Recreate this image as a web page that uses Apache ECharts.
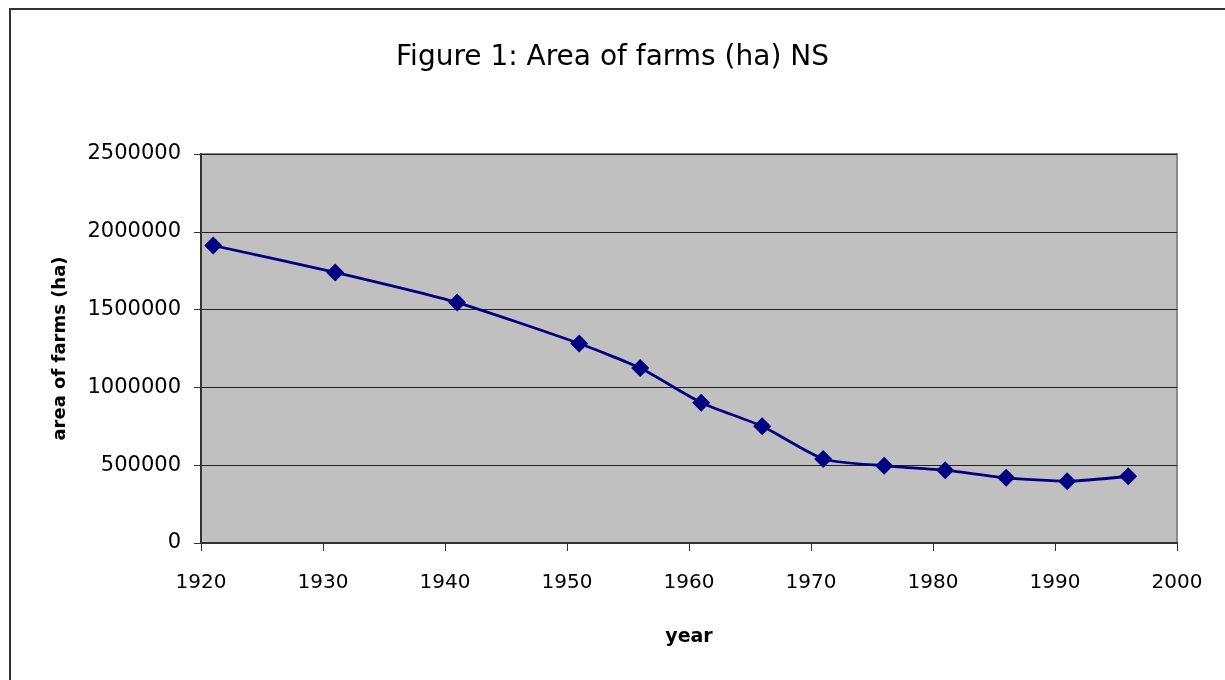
<!DOCTYPE html>
<html>
<head>
<meta charset="utf-8">
<script src="https://cdn.jsdelivr.net/npm/echarts@6/dist/echarts.min.js"></script>
<style>
  html, body { margin: 0; padding: 0; background: #fff; }
  #chart { width: 1225px; height: 680px; }
</style>
</head>
<body>
<div id="chart"></div>
<script>
// census years and farm area (ha)
const years = [1921, 1931, 1941, 1951, 1956, 1961, 1966, 1971, 1976, 1981, 1986, 1991, 1996]
const farmArea = [1912000, 1739000, 1545000, 1282000, 1124000, 902000, 750000, 540000, 496000, 468000, 419000, 397000, 429000]

const titleText = 'Figure 1: Area of farms (ha) NS'
const xName = 'year'
const yName = 'area of farms (ha)'

const font = 'DejaVu Sans'
const chart = echarts.init(document.getElementById('chart'))

chart.setOption({
  backgroundColor: '#ffffff',
  animation: false,
  title: {
    text: titleText,
    left: 'center',
    top: 39,
    textStyle: {
      fontFamily: font,
      fontWeight: 'normal',
      fontSize: 28,
      color: '#000',
    },
  },
  graphic: [
    {
      type: 'rect',
      shape: { x: 10, y: 9, width: 1400, height: 900 },
      style: { fill: 'none', stroke: '#333', lineWidth: 2 },
      silent: true,
    },
  ],
  grid: {
    left: 201,
    right: 48,
    top: 154,
    bottom: 137,
    show: true,
    backgroundColor: '#c0c0c0',
    borderColor: '#8a8a8a',
    borderWidth: 2,
  },
  xAxis: {
    type: 'value',
    min: 1920,
    max: 2000,
    interval: 10,
    name: xName,
    nameLocation: 'middle',
    nameGap: 85,
    nameTextStyle: { fontFamily: font, fontWeight: 'bold', fontSize: 19, color: '#000' },
    axisLine: { show: true, onZero: false, lineStyle: { color: '#333', width: 2 } },
    axisTick: { show: true, inside: false, length: 8, lineStyle: { color: '#333', width: 1 } },
    axisLabel: { fontFamily: font, fontSize: 20, color: '#000', margin: 30, formatter: (v) => String(v) },
    splitLine: { show: false },
  },
  yAxis: {
    type: 'value',
    min: 0,
    max: 2500000,
    interval: 500000,
    name: yName,
    nameLocation: 'middle',
    nameGap: 132,
    nameTextStyle: { fontFamily: font, fontWeight: 'bold', fontSize: 18, color: '#000' },
    axisLine: { show: true, lineStyle: { color: '#333', width: 2 } },
    axisTick: { show: true, inside: false, length: 7, lineStyle: { color: '#333', width: 1 } },
    axisLabel: { fontFamily: font, fontSize: 21, color: '#000', margin: 20, formatter: (v) => String(v) },
    splitLine: { show: true, lineStyle: { color: '#222', width: 1 } },
  },
  series: [
    {
      type: 'line',
      data: years.map((y, i) => [y, farmArea[i]]),
      smooth: 0.2,
      symbol: 'diamond',
      symbolSize: 18,
      lineStyle: { color: '#000080', width: 2.8 },
      itemStyle: { color: '#000080' },
    },
  ],
})
</script>
</body>
</html>
